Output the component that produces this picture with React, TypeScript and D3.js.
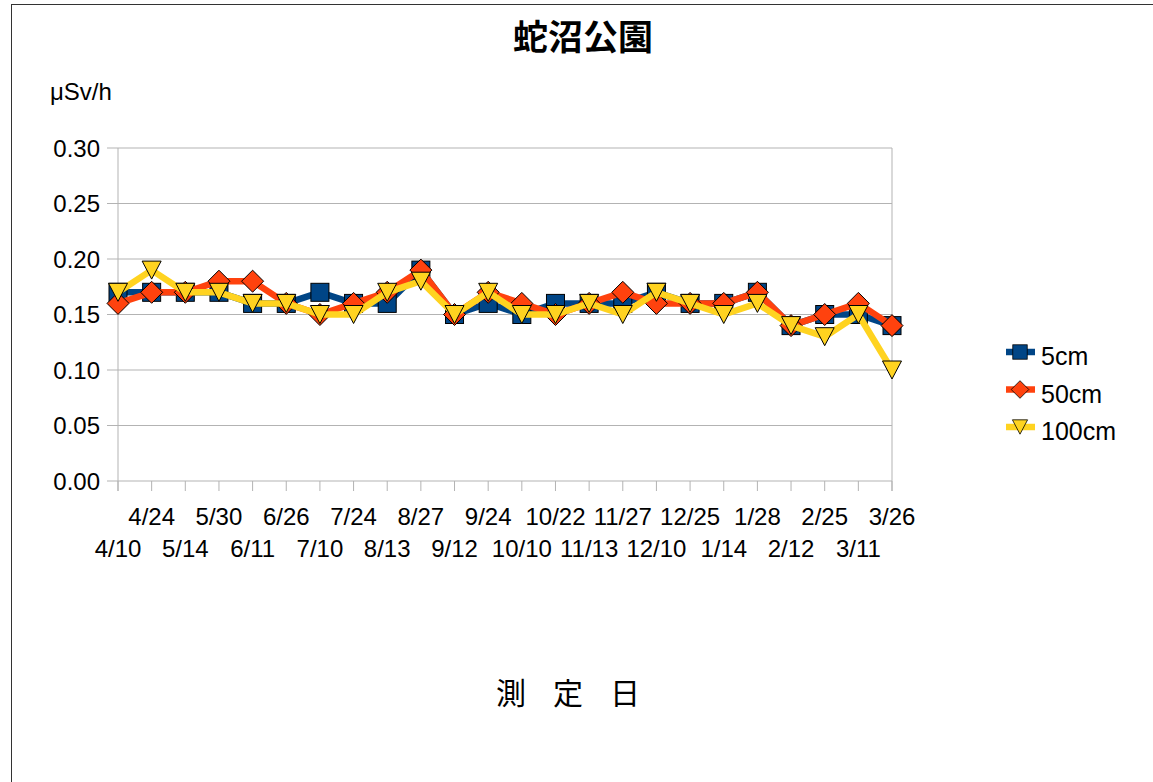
import React from "react";
import * as d3 from "d3";

const categories = ["4/10","4/24","5/14","5/30","6/11","6/26","7/10","7/24","8/13","8/27","9/12","9/24","10/10","10/22","11/13","11/27","12/10","12/25","1/14","1/28","2/12","2/25","3/11","3/26"];
const series5 = [0.17,0.17,0.17,0.17,0.16,0.16,0.17,0.16,0.16,0.19,0.15,0.16,0.15,0.16,0.16,0.16,0.17,0.16,0.16,0.17,0.14,0.15,0.15,0.14];
const series50 = [0.16,0.17,0.17,0.18,0.18,0.16,0.15,0.16,0.17,0.19,0.15,0.17,0.16,0.15,0.16,0.17,0.16,0.16,0.16,0.17,0.14,0.15,0.16,0.14];
const series100 = [0.17,0.19,0.17,0.17,0.16,0.16,0.15,0.15,0.17,0.18,0.15,0.17,0.15,0.15,0.16,0.15,0.17,0.16,0.15,0.16,0.14,0.13,0.15,0.10];
const seriesNames = ["5cm", "50cm", "100cm"];
const yTicks = [0, 0.05, 0.1, 0.15, 0.2, 0.25, 0.3];

const colors = ["#004586", "#ff420e", "#ffd320"];
const shapes = ["square", "diamond", "triangle"];
const FONT = "'Liberation Sans', Arial, sans-serif";
const CJK = "'Noto Sans CJK JP', 'Noto Sans CJK SC', sans-serif";

function Marker({ shape, x, y, fill }: { shape: string; x: number; y: number; fill: string }) {
  if (shape === "square") {
    const s = 18;
    return <rect x={x - s / 2} y={y - s / 2} width={s} height={s} fill={fill} stroke="#000" strokeWidth={1} />;
  }
  if (shape === "diamond") {
    const r = 11;
    return <path d={`M${x},${y - r}L${x + r},${y}L${x},${y + r}L${x - r},${y}Z`} fill={fill} stroke="#000" strokeWidth={1} />;
  }
  const w = 9.5, h = 9;
  return <path d={`M${x - w},${y - h}L${x + w},${y - h}L${x},${y + h}Z`} fill={fill} stroke="#000" strokeWidth={1} />;
}

export default function App() {
  const W = 1153, H = 782;
  const x = d3.scalePoint<string>().domain(categories).range([118, 892]);
  const y = d3.scaleLinear().domain([0, 0.3]).range([481, 148]);
  const all = [series5, series50, series100];
  const line = d3.line<number>().x((_, i) => x(categories[i])!).y((d) => y(d));

  return (
    <svg width={W} height={H} style={{ position: "fixed", left: 0, top: 0, background: "#fff" }}>
      <rect x={0} y={0} width={W} height={H} fill="#fff" />
      <line x1={11} y1={4.5} x2={W} y2={4.5} stroke="#333" />
      <line x1={11.5} y1={4} x2={11.5} y2={H} stroke="#333" />

      <text x={583} y={50} textAnchor="middle" fontFamily={CJK} fontWeight="bold" fontSize={35}>蛇沼公園</text>
      <text x={50} y={100} fontFamily={FONT} fontSize={24}>μSv/h</text>

      {yTicks.map((t) => (
        <g key={t}>
          <line x1={107} x2={892} y1={y(t)} y2={y(t)} stroke="#b3b3b3" strokeWidth={1} />
          <text x={100} y={y(t)} dy="0.36em" textAnchor="end" fontFamily={FONT} fontSize={24}>{t.toFixed(2)}</text>
        </g>
      ))}
      <line x1={118} x2={118} y1={148} y2={491} stroke="#b3b3b3" />
      <line x1={892} x2={892} y1={148} y2={491} stroke="#b3b3b3" />
      {categories.map((c, i) => (
        <g key={c}>
          <line x1={x(c)} x2={x(c)} y1={481} y2={491} stroke="#b3b3b3" />
          <text x={x(c)} y={i % 2 === 1 ? 525 : 557} textAnchor="middle" fontFamily={FONT} fontSize={24}>{c}</text>
        </g>
      ))}

      {all.map((s, si) => (
        <g key={si}>
          <path d={line(s)!} fill="none" stroke={colors[si]} strokeWidth={6.5} strokeLinejoin="round" />
          {s.map((v, i) => (
            <Marker key={i} shape={shapes[si]} x={x(categories[i])!} y={y(v)} fill={colors[si]} />
          ))}
        </g>
      ))}

      {seriesNames.map((n, i) => {
        const ly = 352 + i * 37.5;
        return (
          <g key={n}>
            <line x1={1006} x2={1035} y1={ly} y2={ly} stroke={colors[i]} strokeWidth={6.5} />
            <g transform={`translate(${1020},${ly}) scale(0.8) translate(${-1020},${-ly})`}>
              <Marker shape={shapes[i]} x={1020} y={ly} fill={colors[i]} />
            </g>
            <text x={1041} y={ly + 13} fontFamily={FONT} fontSize={25}>{n}</text>
          </g>
        );
      })}

      {["測", "定", "日"].map((ch, i) => (
        <text key={ch} x={511 + i * 57} y={704} textAnchor="middle" fontFamily={CJK} fontSize={30}>{ch}</text>
      ))}
    </svg>
  );
}
